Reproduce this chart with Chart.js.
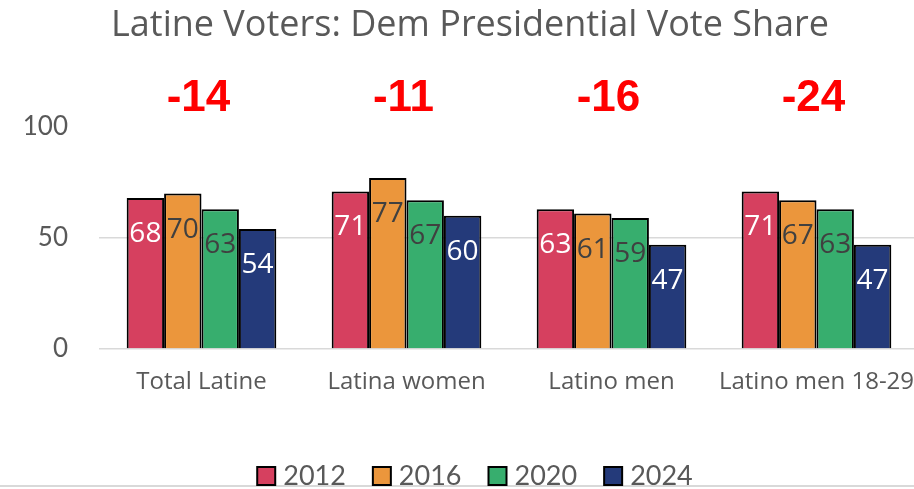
<!DOCTYPE html>
<html>
<head>
<meta charset="utf-8">
<script src="https://cdn.jsdelivr.net/npm/chart.js@4.4.1/dist/chart.umd.min.js"></script>
<style>
    html, body { margin: 0; padding: 0; overflow: hidden; background: #fff; }
    #wrap { width: 919px; height: 489px; }
</style>
</head>
<body>
<div id="wrap"><canvas id="voteChart"></canvas></div>
<script>
// Dem presidential vote share (%) by group and year
const groups = ['Total Latine', 'Latina women', 'Latino men', 'Latino men 18-29'];
const years = ['2012', '2016', '2020', '2024'];
const share2012 = [68, 71, 63, 71];
const share2016 = [70, 77, 61, 67];
const share2020 = [63, 67, 59, 63];
const share2024 = [54, 60, 47, 47];
const yTicks = [0, 50, 100];

const barColors = ['#d6405f', '#eb963c', '#37ae6e', '#243a7a'];
const valueColors = ['#ffffff', '#404040', '#404040', '#ffffff'];
const greyText = '#595959';

const seriesData = [share2012, share2016, share2020, share2024];

// Numbers printed inside the top of each bar
const barValues = {
    id: 'barValues',
    afterDatasetsDraw(chart) {
        const ctx = chart.ctx;
        ctx.save();
        ctx.font = '28px "Open Sans"';
        ctx.textAlign = 'center';
        ctx.textBaseline = 'alphabetic';
        chart.data.datasets.forEach((ds, i) => {
            chart.getDatasetMeta(i).data.forEach((bar, j) => {
                ctx.fillStyle = valueColors[i];
                ctx.fillText(String(ds.data[j]), bar.x, bar.y + 44);
            });
        });
        ctx.restore();
    }
};

// Red 2012 -> 2024 change above each group
const swingLabels = {
    id: 'swingLabels',
    afterDraw(chart) {
        const ctx = chart.ctx;
        const x = chart.scales.x;
        ctx.save();
        ctx.font = 'bold 44px "Liberation Sans"';
        ctx.fillStyle = '#ff0000';
        ctx.textAlign = 'center';
        ctx.textBaseline = 'alphabetic';
        groups.forEach((g, i) => {
            const delta = share2024[i] - share2012[i];
            ctx.fillText(String(delta), x.getPixelForValue(i) - 3, chart.chartArea.top - 16);
        });
        ctx.restore();
    }
};

// Square-box legend along the bottom plus the frame line
const bottomLegend = {
    id: 'bottomLegend',
    afterDraw(chart) {
        const ctx = chart.ctx;
        ctx.save();
        ctx.fillStyle = '#d9d9d9';
        ctx.fillRect(0, chart.height - 4, chart.width, 2);

        ctx.font = '27px Lato';
        ctx.textBaseline = 'middle';
        ctx.textAlign = 'left';
        const box = 18, gap = 8, spacing = 27;
        const widths = years.map(y => ctx.measureText(y).width);
        const total = widths.reduce((a, w) => a + box + gap + w, 0) + spacing * (years.length - 1);
        let xPos = 475 - total / 2;
        const boxTop = chart.height - 22;
        years.forEach((y, i) => {
            ctx.fillStyle = barColors[i];
            ctx.fillRect(xPos, boxTop, box, box);
            ctx.strokeStyle = '#000';
            ctx.lineWidth = 2;
            ctx.strokeRect(xPos, boxTop, box, box);
            ctx.fillStyle = greyText;
            ctx.fillText(y, xPos + box + gap, boxTop + 9);
            xPos += box + gap + widths[i] + spacing;
        });
        ctx.restore();
    }
};

new Chart(document.getElementById('voteChart'), {
    type: 'bar',
    data: {
        labels: groups,
        datasets: years.map((y, i) => ({
            label: y,
            data: seriesData[i],
            backgroundColor: barColors[i],
            borderColor: '#000000',
            borderWidth: 2,
            categoryPercentage: 0.73,
            barPercentage: 1.0
        }))
    },
    options: {
        responsive: true,
        maintainAspectRatio: false,
        animation: false,
        events: [],
        layout: {
            padding: { left: 21, right: 0, top: 0, bottom: 90 }
        },
        plugins: {
            legend: { display: false },
            tooltip: { enabled: false },
            title: {
                display: true,
                text: 'Latine Voters: Dem Presidential Vote Share',
                color: greyText,
                font: { family: '"Open Sans"', size: 36, weight: 'normal' },
                padding: { top: 4, bottom: 79.8 }
            }
        },
        scales: {
            x: {
                grid: { display: false, drawTicks: false },
                border: { display: false },
                ticks: {
                    color: greyText,
                    font: { family: '"Open Sans"', size: 24 },
                    padding: 19,
                    maxRotation: 0,
                    autoSkip: false
                },
                afterFit(scale) {
                    scale.height = 50;
                    scale.paddingLeft = 0;
                    scale.paddingRight = 0;
                }
            },
            y: {
                min: 0,
                max: 100,
                afterBuildTicks(scale) {
                    scale.ticks = yTicks.map(v => ({ value: v }));
                },
                grid: {
                    drawTicks: false,
                    lineWidth: 1.5,
                    color: c => (c.tick && c.tick.value === 100) ? 'rgba(0,0,0,0)' : '#d9d9d9'
                },
                border: { display: false },
                ticks: {
                    color: greyText,
                    font: { family: 'Lato', size: 26 },
                    padding: 31
                },
                afterFit(scale) {
                    scale.width = 78;
                }
            }
        }
    },
    plugins: [barValues, swingLabels, bottomLegend]
});
</script>
</body>
</html>
